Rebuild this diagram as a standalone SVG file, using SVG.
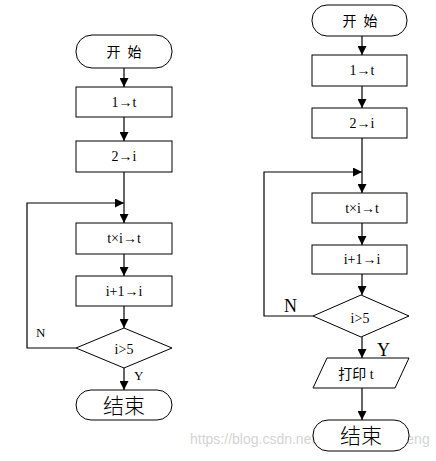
<svg xmlns="http://www.w3.org/2000/svg" width="436" height="461" viewBox="0 0 436 461">
<style>
.s{fill:#fff;stroke:#000;stroke-width:1}
.c{fill:none;stroke:#000;stroke-width:1.2}
.t{font-family:"Liberation Serif","Noto Sans CJK SC",serif;font-size:14px;fill:#000;text-anchor:middle;dominant-baseline:central}
.big{font-size:21px;font-weight:300}
.lb{font-family:"Liberation Serif",serif;fill:#000}
.wm{font-family:"Liberation Sans",sans-serif;font-size:14px;fill:#d4d4d4}
</style>
<defs>
<marker id="ah" viewBox="0 0 10 10" refX="10" refY="5" markerWidth="9" markerHeight="9" markerUnits="userSpaceOnUse" orient="auto">
<path d="M0,0 L10,5 L0,10 z" fill="#000"/>
</marker>
</defs>
<rect width="436" height="461" fill="#fff"/>
<text class="wm" x="190" y="444">https://blog.csdn.net/</text>
<text class="wm" x="383" y="444">t_meng</text>
<g id="connectors">
<line class="c" x1="124" y1="68" x2="124" y2="87" marker-end="url(#ah)"/>
<line class="c" x1="124" y1="117" x2="124" y2="141" marker-end="url(#ah)"/>
<line class="c" x1="124" y1="172" x2="124" y2="223" marker-end="url(#ah)"/>
<line class="c" x1="124" y1="254" x2="124" y2="276" marker-end="url(#ah)"/>
<line class="c" x1="124" y1="306" x2="124" y2="328" marker-end="url(#ah)"/>
<line class="c" x1="124" y1="368" x2="124" y2="390" marker-end="url(#ah)"/>
<polyline class="c" points="76,348 27,348 27,203 124,203" marker-end="url(#ah)" stroke-width="1.6"/>
<line class="c" x1="362" y1="36" x2="362" y2="55" marker-end="url(#ah)"/>
<line class="c" x1="362" y1="86" x2="362" y2="108" marker-end="url(#ah)"/>
<line class="c" x1="362" y1="138" x2="362" y2="193" marker-end="url(#ah)"/>
<line class="c" x1="362" y1="223" x2="362" y2="245" marker-end="url(#ah)"/>
<line class="c" x1="362" y1="274" x2="362" y2="295" marker-end="url(#ah)"/>
<line class="c" x1="362" y1="337" x2="362" y2="358" marker-end="url(#ah)"/>
<line class="c" x1="362" y1="388" x2="362" y2="420" marker-end="url(#ah)"/>
<polyline class="c" points="313,316 264,316 264,172 362,172" marker-end="url(#ah)"/>
</g>
<g id="l-start"><rect class="s" x="76" y="35" width="96" height="33" rx="16"/><text class="t" x="124" y="52" xml:space="preserve">开  始</text></g>
<g id="l-1t"><rect class="s" x="76" y="87" width="96" height="30"/><text class="t" x="124" y="102">1→t</text></g>
<g id="l-2i"><rect class="s" x="76" y="141" width="96" height="31"/><text class="t" x="124" y="156">2→i</text></g>
<g id="l-txi"><rect class="s" x="76" y="223" width="96" height="31"/><text class="t" x="124" y="238">t×i→t</text></g>
<g id="l-inc"><rect class="s" x="76" y="276" width="96" height="30"/><text class="t" x="124" y="291">i+1→i</text></g>
<g id="l-cond"><polygon class="s" points="124,328 172,348 124,368 76,348"/><text class="t" x="124" y="349">i&gt;5</text></g>
<g id="l-end"><rect class="s" x="76" y="390" width="96" height="30" rx="15"/><text class="t big" x="124" y="406">结束</text></g>
<text class="lb" x="36" y="337" font-size="13">N</text>
<text class="lb" x="134" y="380" font-size="13">Y</text>
<g id="r-start"><rect class="s" x="312" y="5" width="95" height="31" rx="15"/><text class="t" x="360" y="21" xml:space="preserve">开  始</text></g>
<g id="r-1t"><rect class="s" x="312" y="55" width="95" height="31"/><text class="t" x="362" y="70">1→t</text></g>
<g id="r-2i"><rect class="s" x="312" y="108" width="95" height="30"/><text class="t" x="362" y="123">2→i</text></g>
<g id="r-txi"><rect class="s" x="312" y="193" width="95" height="30"/><text class="t" x="362" y="208">t×i→t</text></g>
<g id="r-inc"><rect class="s" x="312" y="245" width="95" height="29"/><text class="t" x="362" y="259">i+1→i</text></g>
<g id="r-cond"><polygon class="s" points="361,295 409,316 361,337 313,316"/><text class="t" x="360" y="318">i&gt;5</text></g>
<g id="r-print"><polygon class="s" points="327,358 409,358 395,388 313,388"/><text class="t" x="356" y="374">打印 t</text></g>
<g id="r-end"><rect class="s" x="313" y="420" width="96" height="31" rx="15"/><text class="t big" x="361" y="436">结束</text></g>
<text class="lb" x="284" y="312" font-size="18">N</text>
<text class="lb" x="377" y="356" font-size="18">Y</text>
</svg>
